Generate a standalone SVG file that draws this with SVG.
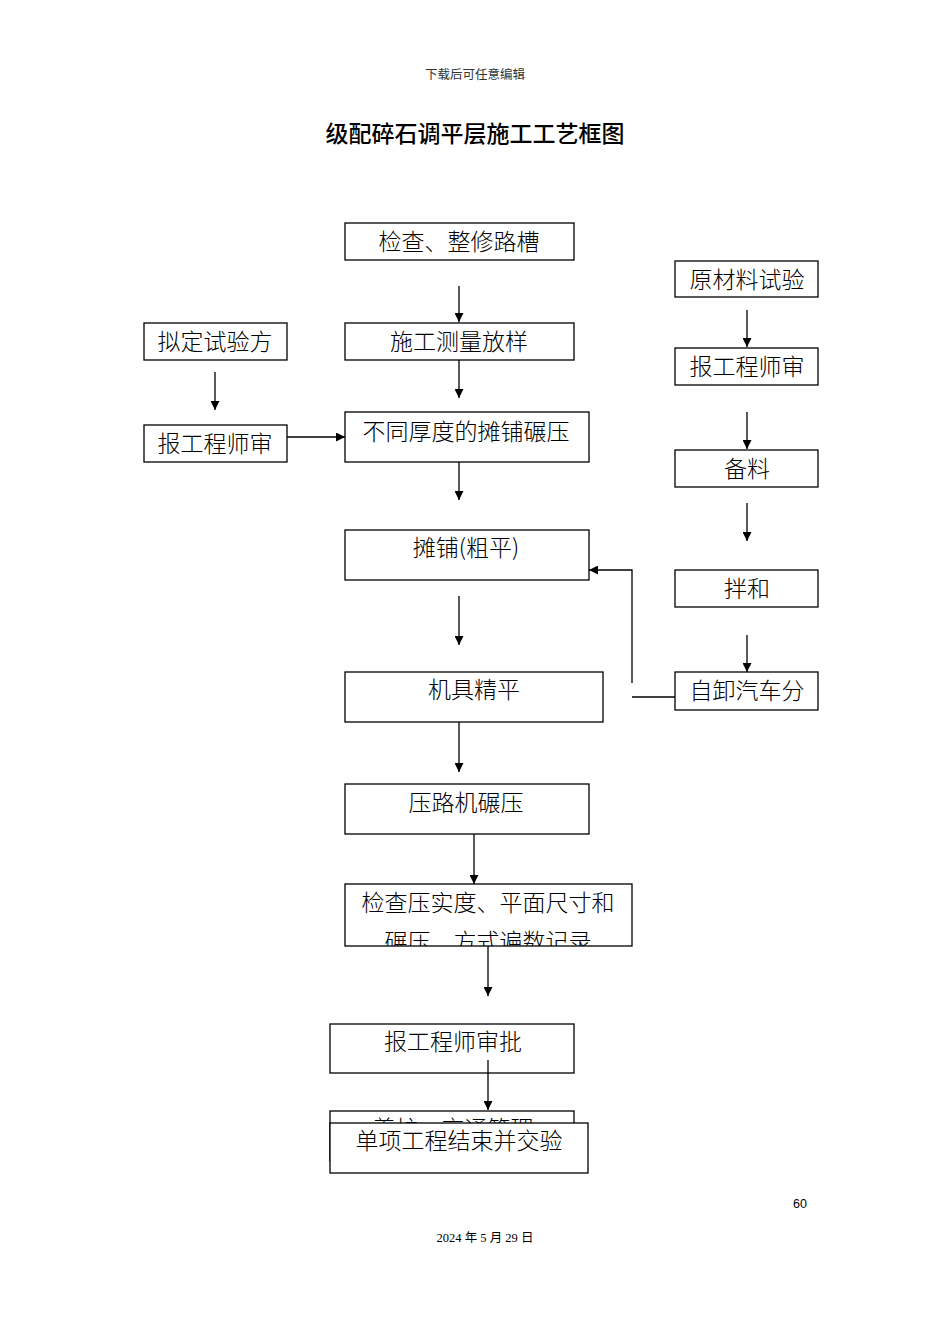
<svg xmlns="http://www.w3.org/2000/svg" width="950" height="1344" viewBox="0 0 950 1344">
<defs>
<style>
.box{fill:#fff;stroke:#000;stroke-width:1.3}
.t{font-family:"Noto Sans CJK SC","Noto Sans",sans-serif;font-size:23px;font-weight:300;fill:#000;text-anchor:middle}
.ln{fill:none;stroke:#000;stroke-width:1.3}
</style>
<marker id="ah" viewBox="0 0 10 10" refX="10" refY="5" markerWidth="9" markerHeight="9" markerUnits="userSpaceOnUse" orient="auto">
<path d="M0,0 L10,5 L0,10 z" fill="#000"/>
</marker>
<clipPath id="c1"><rect x="345" y="884" width="287" height="62"/></clipPath>
<clipPath id="c2"><rect x="330" y="1111" width="244" height="12"/></clipPath>
</defs>
<rect width="950" height="1344" fill="#fff"/>
<text x="475" y="79" font-family="'Liberation Serif','Noto Sans CJK SC',serif" font-size="12.5" text-anchor="middle" fill="#333">下载后可任意编辑</text>
<text x="475" y="142" font-family="'Noto Sans CJK SC',sans-serif" font-size="23" font-weight="500" text-anchor="middle" fill="#000">级配碎石调平层施工工艺框图</text>

<g id="connectors">
<line class="ln" x1="459" y1="286" x2="459" y2="322" marker-end="url(#ah)"/>
<line class="ln" x1="459" y1="360" x2="459" y2="398" marker-end="url(#ah)"/>
<line class="ln" x1="215" y1="372" x2="215" y2="410" marker-end="url(#ah)"/>
<line class="ln" x1="287" y1="437" x2="345" y2="437" marker-end="url(#ah)"/>
<line class="ln" x1="459" y1="462" x2="459" y2="500" marker-end="url(#ah)"/>
<line class="ln" x1="747" y1="310" x2="747" y2="347" marker-end="url(#ah)"/>
<line class="ln" x1="747" y1="412" x2="747" y2="449" marker-end="url(#ah)"/>
<line class="ln" x1="747" y1="503" x2="747" y2="541" marker-end="url(#ah)"/>
<line class="ln" x1="747" y1="635" x2="747" y2="672" marker-end="url(#ah)"/>
<line class="ln" x1="459" y1="596" x2="459" y2="645" marker-end="url(#ah)"/>
<line class="ln" x1="459" y1="722" x2="459" y2="772" marker-end="url(#ah)"/>
<line class="ln" x1="474" y1="834" x2="474" y2="884" marker-end="url(#ah)"/>
<line class="ln" x1="488" y1="946" x2="488" y2="996" marker-end="url(#ah)"/>
<line class="ln" x1="675" y1="697" x2="632" y2="697"/>
<polyline class="ln" points="632,683 632,570 589,570" marker-end="url(#ah)"/>
</g>

<g id="n1"><rect class="box" x="345" y="223" width="229" height="37"/><text class="t" x="459" y="250">检查、整修路槽</text></g>
<g id="n2"><rect class="box" x="675" y="261" width="143" height="36"/><text class="t" x="747" y="288">原材料试验</text></g>
<g id="n3"><rect class="box" x="144" y="323" width="143" height="37"/><text class="t" x="215" y="350">拟定试验方</text></g>
<g id="n4"><rect class="box" x="345" y="323" width="229" height="37"/><text class="t" x="459" y="350">施工测量放样</text></g>
<g id="n5"><rect class="box" x="675" y="348" width="143" height="37"/><text class="t" x="747" y="375">报工程师审</text></g>
<g id="n6"><rect class="box" x="144" y="425" width="143" height="37"/><text class="t" x="215" y="452">报工程师审</text></g>
<g id="n7"><rect class="box" x="345" y="412" width="244" height="50"/><text class="t" x="466" y="440">不同厚度的摊铺碾压</text></g>
<g id="n8"><rect class="box" x="675" y="450" width="143" height="37"/><text class="t" x="747" y="477">备料</text></g>
<g id="n9"><rect class="box" x="345" y="530" width="244" height="50"/><text class="t" x="466" y="556">摊铺(粗平)</text></g>
<g id="n10"><rect class="box" x="675" y="570" width="143" height="37"/><text class="t" x="747" y="597">拌和</text></g>
<g id="n11"><rect class="box" x="345" y="672" width="258" height="50"/><text class="t" x="474" y="698">机具精平</text></g>
<g id="n12"><rect class="box" x="675" y="672" width="143" height="38"/><text class="t" x="747" y="699">自卸汽车分</text></g>
<g id="n13"><rect class="box" x="345" y="784" width="244" height="50"/><text class="t" x="466" y="811">压路机碾压</text></g>
<g id="n14"><rect class="box" x="345" y="884" width="287" height="62"/>
<g clip-path="url(#c1)"><text class="t" x="488" y="911">检查压实度、平面尺寸和</text><text class="t" x="488" y="950">碾压、方式遍数记录</text></g></g>
<g id="n15"><rect class="box" x="330" y="1024" width="244" height="49"/><text class="t" x="453" y="1050">报工程师审批</text></g>
<line class="ln" x1="488" y1="1060" x2="488" y2="1110" marker-end="url(#ah)"/>
<g id="n16"><rect class="box" x="330" y="1111" width="244" height="50"/><g clip-path="url(#c2)"><text class="t" x="453" y="1137">养护、交通管理</text></g></g>
<g id="n17"><rect class="box" x="330" y="1123" width="258" height="50"/><text class="t" x="459" y="1149">单项工程结束并交验</text></g>

<text x="800" y="1208" font-family="'Liberation Sans','Noto Sans CJK SC',sans-serif" font-size="12.5" text-anchor="middle" fill="#000">60</text>
<text x="485" y="1242" font-family="'Liberation Serif','Noto Sans CJK SC',serif" font-size="12.5" text-anchor="middle" fill="#000">2024 年 5 月 29 日</text>
</svg>
